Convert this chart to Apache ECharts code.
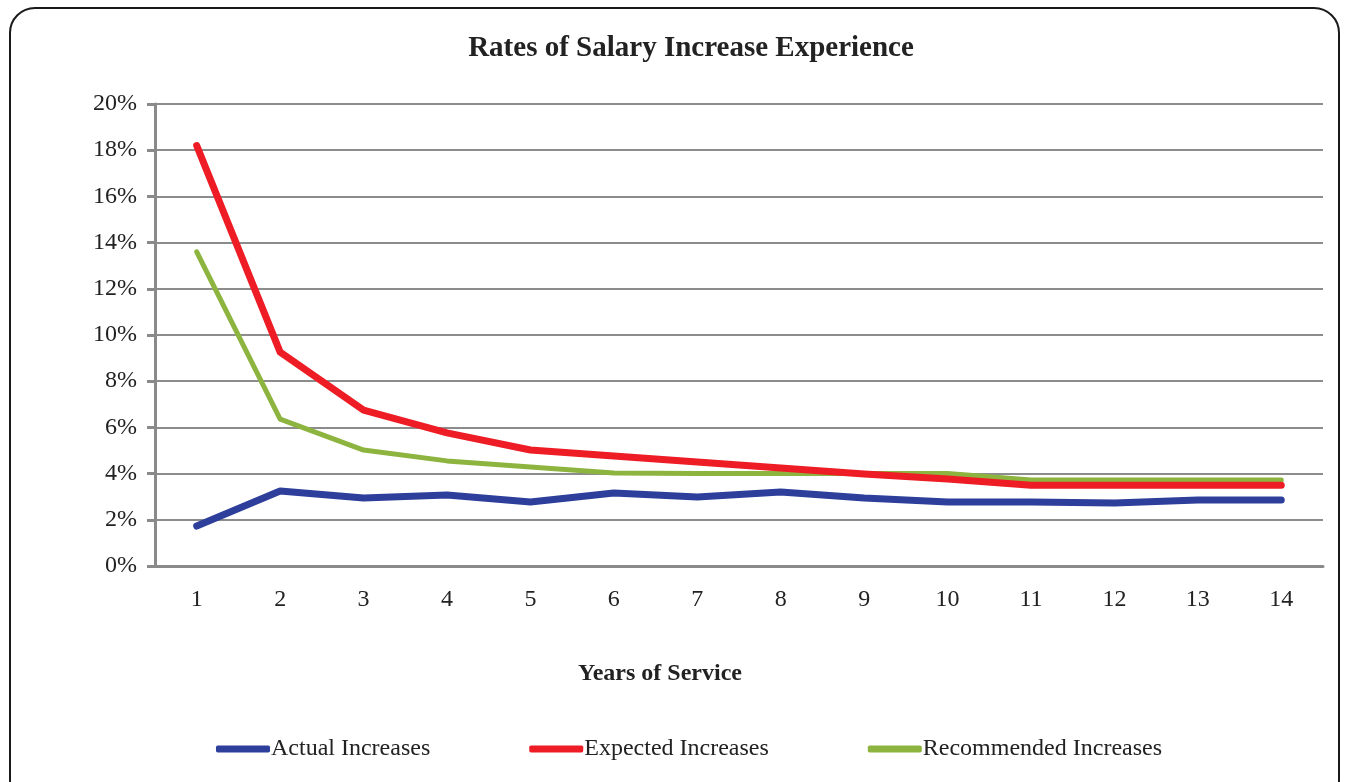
<!DOCTYPE html>
<html>
<head>
<meta charset="utf-8">
<script src="https://cdn.jsdelivr.net/npm/echarts@6/dist/echarts.min.js"></script>
<style>
  html, body { margin: 0; padding: 0; background: #fff; }
  #frame {
    position: absolute; left: 9px; top: 7px; width: 1331px; height: 800px;
    border: 2px solid #1a1a1a; border-radius: 26px; box-sizing: border-box;
  }
  #chart { position: absolute; left: 0; top: 0; width: 1353px; height: 782px; }
</style>
</head>
<body>
<div id="frame"></div>
<div id="chart"></div>
<script>
  const years = ['1', '2', '3', '4', '5', '6', '7', '8', '9', '10', '11', '12', '13', '14'];
  // values in percent
  const actualIncreases = [1.73, 3.25, 2.94, 3.07, 2.77, 3.16, 2.99, 3.2, 2.94, 2.77, 2.77, 2.73, 2.86, 2.86];
  const expectedIncreases = [18.2, 9.26, 6.75, 5.76, 5.02, 4.76, 4.5, 4.24, 3.98, 3.77, 3.5, 3.5, 3.5, 3.5];
  const recommendedIncreases = [13.6, 6.36, 5.02, 4.55, 4.29, 4.03, 4.0, 4.0, 4.0, 4.0, 3.72, 3.72, 3.72, 3.72];

  const serif = '"Liberation Serif", "DejaVu Serif", serif';
  const chart = echarts.init(document.getElementById('chart'));

  chart.setOption({
    animation: false,
    textStyle: { fontFamily: serif },
    title: {
      text: 'Rates of Salary Increase Experience',
      left: 686,
      top: 29,
      textAlign: 'center',
      textStyle: { fontFamily: serif, fontSize: 29, fontWeight: 'bold', color: '#222' }
    },
    legend: {
      top: 737,
      left: 216,
      padding: 0,
      icon: 'roundRect',
      itemWidth: 54,
      itemHeight: 7,
      itemGap: 99,
      textStyle: { fontFamily: serif, fontSize: 24, color: '#222', padding: [0, 0, 0, -4] },
      data: ['Actual Increases', 'Expected Increases', 'Recommended Increases']
    },
    grid: { left: 155, right: 30, top: 104, bottom: 216 },
    xAxis: {
      type: 'category',
      data: years,
      boundaryGap: true,
      name: 'Years of Service',
      nameLocation: 'middle',
      nameGap: 96,
      nameTextStyle: { fontFamily: serif, fontSize: 24, fontWeight: 'bold', color: '#222', padding: [0, 158, 0, 0] },
      axisLine: { lineStyle: { color: '#8a8a8a', width: 3 } },
      axisTick: { length: 8, lineStyle: { color: '#8a8a8a', width: 3 } },
      axisLabel: { margin: 22, fontSize: 24, color: '#222' }
    },
    yAxis: {
      type: 'value',
      min: 0,
      max: 20,
      interval: 2,
      axisLine: { show: true, lineStyle: { color: '#8a8a8a', width: 3 } },
      axisTick: { show: true, length: 8, lineStyle: { color: '#8a8a8a', width: 3 } },
      axisLabel: { formatter: '{value}%', margin: 18, fontSize: 24, color: '#222' },
      splitLine: { lineStyle: { color: '#8c8c8c', width: 2 } }
    },
    series: [
      {
        name: 'Actual Increases',
        type: 'line',
        data: actualIncreases,
        showSymbol: false,
        itemStyle: { color: '#2e3f9b' },
        lineStyle: { color: '#2e3f9b', width: 7, cap: 'round', join: 'round' }
      },
      {
        name: 'Expected Increases',
        type: 'line',
        data: expectedIncreases,
        showSymbol: false,
        itemStyle: { color: '#ee1c25' },
        lineStyle: { color: '#ee1c25', width: 7, cap: 'round', join: 'round' }
      },
      {
        name: 'Recommended Increases',
        type: 'line',
        data: recommendedIncreases,
        showSymbol: false,
        z: 1,
        itemStyle: { color: '#8db43f' },
        lineStyle: { color: '#8db43f', width: 5, cap: 'round', join: 'round' }
      }
    ]
  });
</script>
</body>
</html>
